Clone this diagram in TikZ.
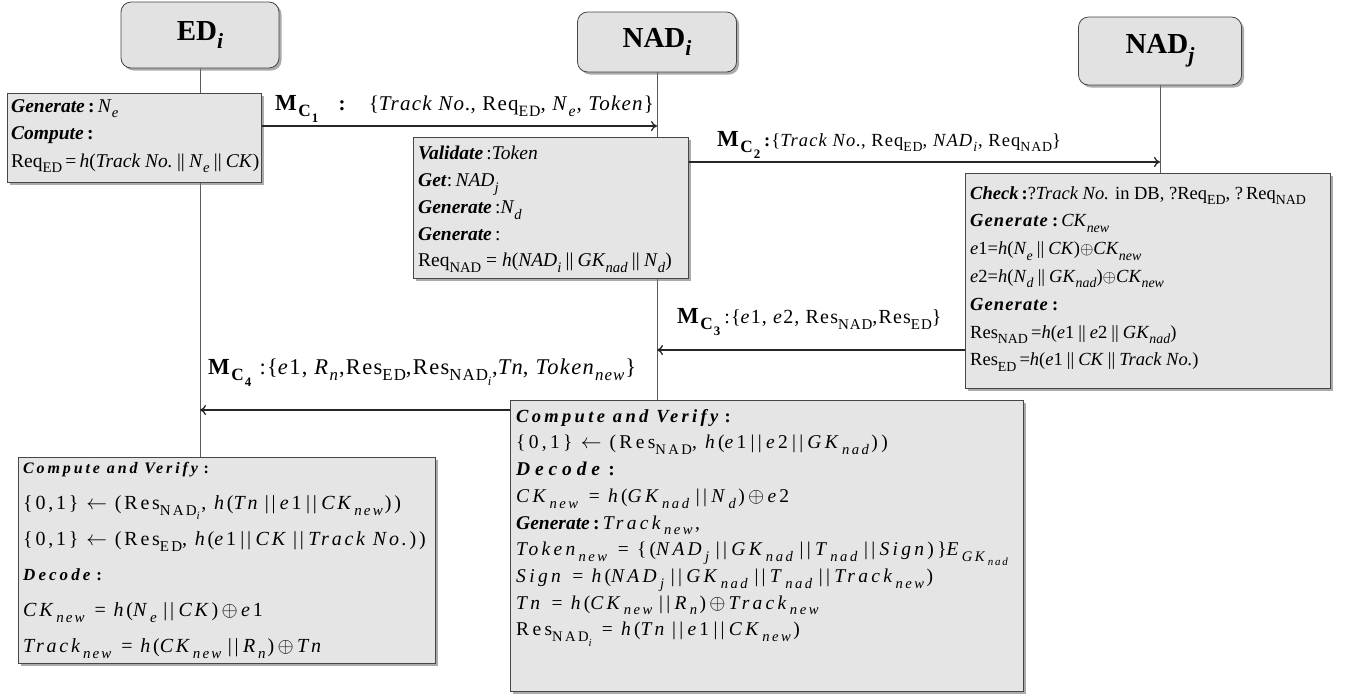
\documentclass[tikz,border=0pt]{standalone}
\usepackage{fontspec}
\setmainfont{Liberation Serif}
\newfontfamily\spacedfont[LetterSpace=14]{Liberation Serif}
\newfontfamily\spacedfontb[LetterSpace=17]{Liberation Serif}
\newfontfamily\labelfont[LetterSpace=6]{Liberation Serif}
\newfontfamily\headfont[LetterSpace=18]{Liberation Serif}
\newfontfamily\widefont[LetterSpace=25]{Liberation Serif}
\usetikzlibrary{arrows.meta,shadows,backgrounds}

\definecolor{boxfill}{RGB}{229,229,229}
\definecolor{headfill}{RGB}{226,226,226}
\definecolor{boxline}{RGB}{70,70,70}
\definecolor{lifeclr}{RGB}{90,90,90}

% lowered, fairly large subscripts
\makeatletter
\newcommand\sbs[1]{\raisebox{-0.3em}{\fontsize{\the\dimexpr\f@size pt*3/4\relax}{0pt}\selectfont #1}}
\makeatother
\newcommand\bi[1]{\textbf{\textit{#1}}}
\newcommand\ii[1]{\textit{#1}}
\newcommand\cc{\hspace{0.22em}||\hspace{0.22em}}
\newcommand\msgname[1]{{\fontsize{23}{24}\selectfont\textbf{M}\sbs{\textbf{C}\sbs{\textbf{#1}}}}}

\tikzset{
  shade/.style={drop shadow={shadow xshift=2.5pt,shadow yshift=-2.5pt,fill=black!55,opacity=0.6}},
  head/.style={draw=boxline,fill=headfill,rounded corners=10pt,line width=0.8pt,shade,
    font=\fontsize{29}{32}\selectfont\bfseries},
  stepbox/.style={draw=boxline,fill=boxfill,line width=0.8pt,shade,anchor=north west,inner sep=0pt},
  steptext/.style={anchor=north west,align=left,inner sep=0pt},
  life/.style={draw=lifeclr,line width=0.7pt},
  msg/.style={draw=black!85,line width=1.5pt,-{To[length=6pt,width=10pt,line width=1.3pt]}},
  lab/.style={anchor=base west,inner sep=0pt,font=\labelfont\fontsize{21}{23}\selectfont},
}

\begin{document}
\begin{tikzpicture}[x=1pt,y=-1pt]
\useasboundingbox (0,0) rectangle (1352,697);

% participants
\node[head,minimum width=158pt,minimum height=66pt] (ed)   at (200,35)  {\raisebox{-6pt}{ED\sbs{\textit{i}}}};
\node[head,minimum width=159pt,minimum height=60pt] (nadi) at (657,42)  {\raisebox{-6pt}{NAD\sbs{\textit{i}}}};
\node[head,minimum width=163pt,minimum height=68pt] (nadj) at (1160,51) {NAD\sbs{\textit{j}}};

% step boxes
\node[stepbox,minimum width=254pt,minimum height=89pt]  (edgenbox)  at (7,93)    {};
\node[stepbox,minimum width=275pt,minimum height=141pt] (nadvalbox) at (413,137) {};
\node[stepbox,minimum width=365pt,minimum height=215pt] (chkbox)    at (965,173) {};
\node[stepbox,minimum width=513pt,minimum height=291pt] (nadcvbox)  at (510,400) {};
\node[stepbox,minimum width=417pt,minimum height=206pt] (edcvbox)   at (18,457)  {};

% ED_i: request
\node[steptext,font=\fontsize{19.5}{27.5}\selectfont] (edgentext) at ([shift={(4,6)}]edgenbox.north west) {%
  \bi{Generate}\,\textbf{:}\,\ii{N}\sbs{\ii{e}}\\
  \bi{Compute}\,\textbf{:}\\
  Req\sbs{ED}\,=\,\ii{h}(\ii{Track No.}\cc\ii{N}\sbs{\ii{e}}\cc\ii{CK})};

% NAD_i: validation
\node[steptext,font=\fontsize{19.5}{26.8}\selectfont] (nadvaltext) at ([shift={(5,9)}]nadvalbox.north west) {%
  \bi{Validate}\,:\ii{Token}\\
  \bi{Get}:\,\ii{NAD}\sbs{\ii{j}}\\
  \bi{Generate}\,:\ii{N}\sbs{\ii{d}}\\
  \bi{Generate}\,:\\
  Req\sbs{NAD} = \ii{h}(\ii{NAD}\sbs{\ii{i}}\cc\ii{GK}\sbs{\ii{nad}}\cc\ii{N}\sbs{\ii{d}})};

% NAD_j: check
\node[steptext,font=\fontsize{18.5}{27.8}\selectfont] (chktext) at ([shift={(5,13)}]chkbox.north west) {%
  \bi{Check}\,\textbf{:}?\ii{Track No.} in DB, ?Req\sbs{ED}, ?\,Req\sbs{NAD}\\
  {\labelfont\bi{Generate}}\,\textbf{:}\,\ii{CK}\sbs{\ii{new}}\\
  \ii{e}1=\ii{h}(\ii{N}\sbs{\ii{e}}\cc\ii{CK})$\oplus$\ii{CK}\sbs{\ii{new}}\\
  \ii{e}2=\ii{h}(\ii{N}\sbs{\ii{d}}\cc\ii{GK}\sbs{\ii{nad}})$\oplus$\ii{CK}\sbs{\ii{new}}\\
  {\labelfont\bi{Generate}}\,\textbf{:}\\
  Res\sbs{NAD}\,=\ii{h}(\ii{e}1\cc\ii{e}2\cc\ii{GK}\sbs{\ii{nad}})\\
  Res\sbs{ED}\,=\ii{h}(\ii{e}1\cc\ii{CK}\cc\ii{Track No.})};

% NAD_i: verification and token
\node[steptext,font=\spacedfontb\fontsize{19.5}{26.7}\selectfont] (nadcvtext) at ([shift={(6,9)}]nadcvbox.north west) {%
  {\headfont\fontsize{18.5}{20}\selectfont\bi{Compute and Verify}\,\textbf{:}}\\
  \{0,1\} $\leftarrow$ (Res\sbs{NAD}, \ii{h}(\ii{e}1\cc\ii{e}2\cc\ii{GK}\sbs{\ii{nad}}))\\
  {\widefont\bi{Decode}}\,\textbf{:}\\
  \ii{CK}\sbs{\ii{new}} = \ii{h}(\ii{GK}\sbs{\ii{nad}}\cc\ii{N}\sbs{\ii{d}})\,$\oplus$\,\ii{e}2\\
  {\rmfamily\bi{Generate}\,\textbf{:}}\,\ii{Track}\sbs{\ii{new}},\\
  \ii{Token}\sbs{\ii{new}} = \{(\ii{NAD}\sbs{\ii{j}}\cc\ii{GK}\sbs{\ii{nad}}\cc\ii{T}\sbs{\ii{nad}}\cc\ii{Sign})\}\ii{E}\sbs{\ii{GK}\sbs{\ii{nad}}}\\
  \ii{Sign} = \ii{h}(\ii{NAD}\sbs{\ii{j}}\cc\ii{GK}\sbs{\ii{nad}}\cc\ii{T}\sbs{\ii{nad}}\cc\ii{Track}\sbs{\ii{new}})\\
  \ii{Tn} = \ii{h}(\ii{CK}\sbs{\ii{new}}\cc\ii{R}\sbs{\ii{n}})\,$\oplus$\,\ii{Track}\sbs{\ii{new}}\\
  Res\sbs{NAD\sbs{\ii{i}}} = \ii{h}(\ii{Tn}\cc\ii{e}1\cc\ii{CK}\sbs{\ii{new}})};

% ED_i: verification and decoding
\node[steptext,font=\spacedfont\fontsize{20}{35.8}\selectfont] (edcvtext) at ([shift={(5,5)}]edcvbox.north west) {%
  {\headfont\fontsize{16}{18}\selectfont\bi{Compute and Verify}\,\textbf{:}}\\
  \{0,1\} $\leftarrow$ (Res\sbs{NAD\sbs{\ii{i}}}, \ii{h}(\ii{Tn}\cc\ii{e}1\cc\ii{CK}\sbs{\ii{new}}))\\
  \{0,1\} $\leftarrow$ (Res\sbs{ED}, \ii{h}(\ii{e}1\cc\ii{CK}\cc\ii{Track No.}))\\
  {\headfont\fontsize{17}{18}\selectfont\bi{Decode}\,\textbf{:}}\\
  \ii{CK}\sbs{\ii{new}} = \ii{h}(\ii{N}\sbs{\ii{e}}\cc\ii{CK})\,$\oplus$\,\ii{e}1\\
  \ii{Track}\sbs{\ii{new}} = \ii{h}(\ii{CK}\sbs{\ii{new}}\cc\ii{R}\sbs{\ii{n}})\,$\oplus$\,\ii{Tn}};

% lifelines, behind the boxes
\begin{pgfonlayer}{background}
\draw[life] (ed.south) -- (ed.south |- edcvbox.north);
\draw[life] (nadi.south) -- (nadi.south |- nadcvbox.north);
\draw[life] (nadj.south) -- (nadj.south |- chkbox.north);
\end{pgfonlayer}

% message heights
\coordinate (y1) at (0,126);
\coordinate (y2) at (0,162);
\coordinate (y3) at (0,350);
\coordinate (y4) at (0,410);

% messages
\draw[msg] (edgenbox.east |- y1) -- (nadi.south |- y1);
\draw[msg] (nadvalbox.east |- y2) -- (nadj.south |- y2);
\draw[msg] (chkbox.west |- y3) -- (nadi.south |- y3);
\draw[msg] (nadcvbox.west |- y4) -- (ed.south |- y4);

% message labels
\node[lab] (m1) at (275,110) {\msgname{1}\ \ \ \textbf{:}\hspace{22pt}\{\ii{Track No.}, Req\sbs{ED}, \ii{N}\sbs{\ii{e}}, \ii{Token}\}};
\node[lab,font=\labelfont\fontsize{18.5}{20}\selectfont] (m2) at (717,146) {\msgname{2}\,\textbf{:}\{\ii{Track No.}, Req\sbs{ED}, \ii{NAD}\sbs{\ii{i}}, Req\sbs{NAD}\}};
\node[lab,font=\labelfont\fontsize{20}{22}\selectfont] (m3) at (677,323) {\msgname{3}\,:\{\ii{e}1, \ii{e}2, Res\sbs{NAD},Res\sbs{ED}\}};
\node[lab,font=\labelfont\fontsize{22.5}{24}\selectfont] (m4) at (208,374) {\msgname{4}\,\,:\{\ii{e}1, \ii{R}\sbs{\ii{n}},Res\sbs{ED},Res\sbs{NAD\sbs{\ii{i}}},\ii{Tn}, \ii{Token}\sbs{\ii{new}}\}};

\end{tikzpicture}
\end{document}
